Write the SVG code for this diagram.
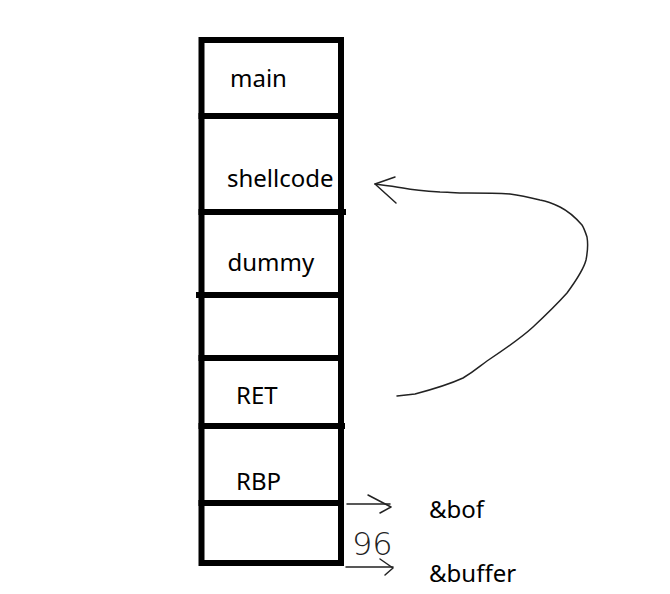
<svg xmlns="http://www.w3.org/2000/svg" width="670" height="594" viewBox="0 0 670 594">
<style>
.cell{fill:none;stroke:#000;stroke-width:6;}
.lbl{font-family:"Noto Sans","Open Sans",sans-serif;font-size:24px;fill:#000;}
.hand{fill:none;stroke:#222;stroke-width:1.5;stroke-linecap:round;stroke-linejoin:round;}
.digits{font-family:"DejaVu Sans",sans-serif;font-size:32px;font-weight:200;fill:#222;}
</style>
<rect width="670" height="594" fill="#fff"/>
<g id="cell-main"><rect class="cell" x="201.5" y="40" width="139.5" height="76"/><text class="lbl" x="230" y="87">main</text></g>
<g id="cell-shellcode"><rect class="cell" x="201.5" y="116" width="139.5" height="96"/><line class="cell" x1="341" y1="212" x2="346" y2="212"/><text class="lbl" x="227" y="187">shellcode</text></g>
<g id="cell-dummy"><rect class="cell" x="201.5" y="212" width="139.5" height="83"/><line class="cell" x1="196" y1="295" x2="201" y2="295"/><text class="lbl" x="227.5" y="271">dummy</text></g>
<g id="cell-empty1"><rect class="cell" x="201.5" y="295" width="139.5" height="63"/></g>
<g id="cell-ret"><rect class="cell" x="201.5" y="358" width="139.5" height="68"/><line class="cell" x1="341" y1="426" x2="345" y2="426"/><text class="lbl" x="236" y="404">RET</text></g>
<g id="cell-rbp"><rect class="cell" x="201.5" y="426" width="139.5" height="77"/><text class="lbl" x="236" y="490">RBP</text></g>
<g id="cell-bottom"><rect class="cell" x="201.5" y="503" width="139.5" height="60"/></g>
<g id="connectors">
<path class="hand" d="M397,396 L415,394 C430,390 450,384 463,378 C475,371 480,366 487,361 C505,349 520,339 533,327 C548,313 558,303 567,293 C578,278 584,268 586,260 C588,250 588,243 587,237 C585,231 584,228 582,225 C575,217 568,211 560,207 C552,203 546,201 540,200 C528,197 518,195 510,194 C495,193 480,193 467,193 C455,193 448,192 440,192 C425,191 414,190 403,188 C392,186 383,185 375,184"/>
<polyline class="hand" points="395,177 375,184 396,203"/>
<line class="hand" x1="347" y1="504" x2="390" y2="504"/>
<polyline class="hand" points="368,495 391,507 380,513"/>
<line class="hand" x1="346" y1="567" x2="393" y2="567"/>
<polyline class="hand" points="380,559 393,568 385,575"/>
</g>
<text class="lbl" x="429" y="518">&amp;bof</text>
<text class="lbl" x="429" y="582">&amp;buffer</text>
<text class="digits" x="352" y="555">96</text>
</svg>
